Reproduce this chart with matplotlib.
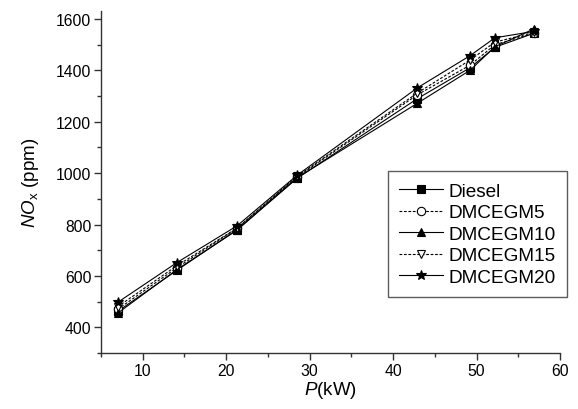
import matplotlib
matplotlib.use("Agg")
import matplotlib.pyplot as plt
from matplotlib.ticker import MultipleLocator

plt.rcParams['font.family'] = ['Liberation Sans', 'DejaVu Sans']
plt.rcParams['mathtext.fontset'] = 'custom'
plt.rcParams['mathtext.it'] = 'Liberation Sans:italic'
plt.rcParams['mathtext.rm'] = 'Liberation Sans'

power = [7.0, 14.1, 21.3, 28.5, 42.9, 49.2, 52.2, 56.9]
diesel = [462, 622, 780, 980, 1290, 1410, 1490, 1545]
dmcegm5 = [470, 632, 785, 985, 1305, 1420, 1500, 1545]
dmcegm10 = [455, 625, 778, 982, 1272, 1400, 1492, 1562]
dmcegm15 = [480, 640, 786, 988, 1312, 1440, 1510, 1548]
dmcegm20 = [497, 652, 795, 992, 1332, 1457, 1527, 1552]

labels = ["Diesel", "DMCEGM5", "DMCEGM10", "DMCEGM15", "DMCEGM20"]
series = [diesel, dmcegm5, dmcegm10, dmcegm15, dmcegm20]
styles = [
    dict(ls='-', marker='s', mfc='black'),
    dict(ls='--', marker='o', mfc='white', dashes=(2.5, 1.5)),
    dict(ls='-', marker='^', mfc='black'),
    dict(ls='--', marker='v', mfc='white', dashes=(2.5, 1.5)),
    dict(ls='-', marker='*', mfc='black'),
]

fig = plt.figure(figsize=(5.78, 4.10), dpi=100)
ax = fig.add_axes([0.1747, 0.1366, 0.7943, 0.8334])

for lab, ys, st in zip(labels, series, styles):
    ms = 7.5 if st['marker'] == '*' else 6
    ax.plot(power, ys, color='black', lw=0.8, mec='black', mew=0.8,
            ms=ms, label=lab, **st)

ax.set_xlim(5, 60)
ax.set_ylim(300, 1630)
ax.xaxis.set_major_locator(MultipleLocator(10))
ax.xaxis.set_minor_locator(MultipleLocator(5))
ax.yaxis.set_major_locator(MultipleLocator(200))
ax.yaxis.set_minor_locator(MultipleLocator(100))

for s in ['top', 'right']:
    ax.spines[s].set_visible(False)
for s in ['left', 'bottom']:
    ax.spines[s].set_color('#333333')
    ax.spines[s].set_linewidth(1.0)

ax.tick_params(which='major', direction='out', length=5, width=1.0,
               color='#333333', labelsize=11.3, labelcolor='black', pad=2)
ax.tick_params(which='minor', direction='out', length=3, width=1.0,
               color='#333333')

ax.set_xlabel(r'$P$(kW)', fontsize=13.5, labelpad=1)
ax.set_ylabel(r'$NO_{\mathrm{x}}$ (ppm)', fontsize=13.5, labelpad=11)

leg = ax.legend(loc='upper left', bbox_to_anchor=(0.625, 0.532), numpoints=1,
                handlelength=2.3, fontsize=13.7, frameon=True, fancybox=False,
                borderpad=0.6, labelspacing=0.22, handletextpad=0.3,
                borderaxespad=0)
leg.get_frame().set_edgecolor('#333333')
leg.get_frame().set_linewidth(1.0)

fig.savefig('out.png', dpi=100)
